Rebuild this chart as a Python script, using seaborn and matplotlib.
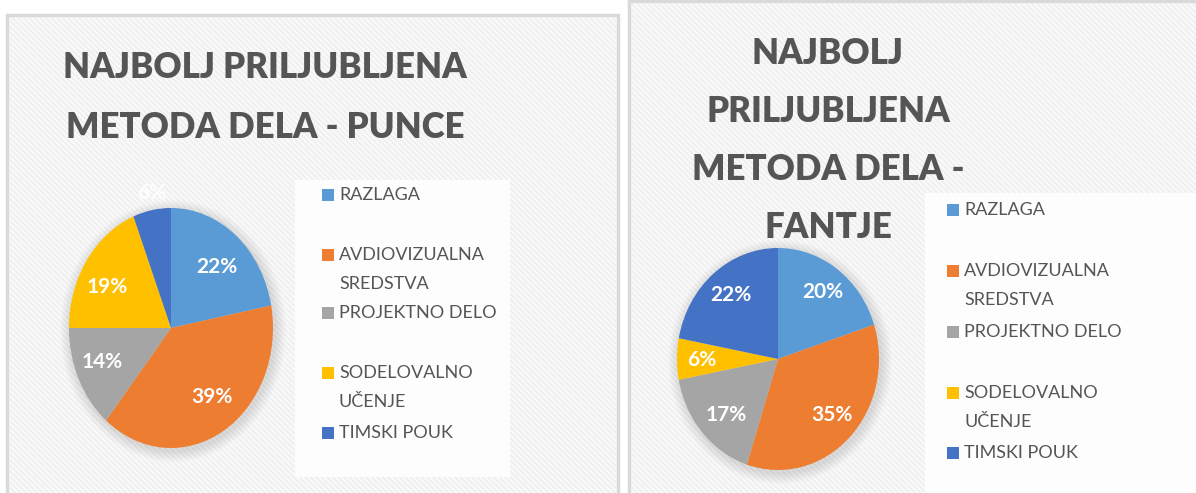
import matplotlib
matplotlib.use("Agg")
import matplotlib.pyplot as plt
import seaborn as sns
from matplotlib.patches import Rectangle, Ellipse

sns.set_theme(style="white")
plt.rcParams['font.family'] = ['Lato', 'DejaVu Sans']
plt.rcParams['hatch.linewidth'] = 1.6

# ---- data ----
categories = ["RAZLAGA", "AVDIOVIZUALNA\nSREDSTVA", "PROJEKTNO DELO",
              "SODELOVALNO\nUČENJE", "TIMSKI POUK"]
punce = [22, 39, 14, 19, 6]
fantje = [20, 35, 17, 6, 22]
title_punce = ["NAJBOLJ PRILJUBLJENA", "METODA DELA - PUNCE"]
title_fantje = ["NAJBOLJ", "PRILJUBLJENA", "METODA DELA -", "FANTJE"]

colors = sns.color_palette(["#5B9BD5", "#ED7D31", "#A5A5A5", "#FFC000", "#4472C4"])

W, H = 1196, 493
fig = plt.figure(figsize=(W / 100, H / 100), dpi=100)
fig.patch.set_facecolor("white")

def fx(x):
    return x / W

def fy(y):
    return 1 - y / H

# ---- panels ----
bg = fig.add_axes([0, 0, 1, 1], zorder=0)
bg.set_xlim(0, W)
bg.set_ylim(H, 0)
bg.axis("off")
for (x0, y0, x1, y1) in [(7, 15, 618, 500), (629, 1, 1200, 500)]:
    bg.add_patch(Rectangle((x0, y0), x1 - x0, y1 - y0, facecolor="#FBFBFB",
                           edgecolor="#D9D9D9", lw=2.5))
    bg.add_patch(Rectangle((x0 + 1.5, y0 + 1.5), x1 - x0 - 3, y1 - y0 - 3,
                           facecolor="none", edgecolor="#F0F0F0", lw=0,
                           hatch="\\\\\\\\\\\\"))
# legend boxes
bg.add_patch(Rectangle((295, 180), 215, 297, facecolor="#FDFDFD", edgecolor="none"))
bg.add_patch(Rectangle((925, 193), 275, 300, facecolor="#FDFDFD", edgecolor="none"))

def draw_pie(values, cx, cy, rx, ry, label_pos):
    # soft shadow
    for k in range(10, 0, -1):
        bg.add_patch(Ellipse((cx + 2, cy + 3), 2 * rx + 2.2 * k, 2 * ry + 2.2 * k,
                             facecolor="#000000", alpha=0.012, edgecolor="none"))
    ax = fig.add_axes([fx(cx - rx), fy(cy + ry), 2 * rx / W, 2 * ry / H], zorder=2)
    wedges, _ = ax.pie(values, colors=colors, startangle=90, counterclock=False,
                       radius=1, wedgeprops=dict(linewidth=0))
    ax.set_aspect("auto")
    ax.set_xlim(-1, 1)
    ax.set_ylim(-1, 1)
    for w in wedges:
        w.set_clip_on(False)
    for v, (px, py) in zip(values, label_pos):
        outside = (px - cx) ** 2 / rx ** 2 + (py - cy) ** 2 / ry ** 2 > 1
        fig.text(fx(px), fy(py), f"{v}%", ha="center", va="center", color="white",
                 fontsize=15, fontweight="bold", alpha=0.9 if outside else 1.0,
                 zorder=5)
    return ax

draw_pie(punce, 171, 328, 102, 120,
         [(217, 267), (212, 397), (102, 362), (107, 287), (152, 193)])
draw_pie(fantje, 778, 359, 101, 111,
         [(823, 292), (832, 415), (726, 415), (702, 360), (731, 295)])

# ---- titles ----
tkw = dict(ha="center", va="center", color="#555555", fontsize=25, fontweight="heavy")
for line, y in zip(title_punce, [68, 128]):
    fig.text(fx(265), fy(y), line, **tkw)
for line, y in zip(title_fantje, [53, 111, 169, 228]):
    fig.text(fx(828), fy(y), line, **tkw)

# ---- legends ----
def draw_legend(x_sq, ys, x_txt):
    for lab, col, y in zip(categories, colors, ys):
        bg.add_patch(Rectangle((x_sq, y - 6), 12, 12, facecolor=col, edgecolor="none"))
        for i, part in enumerate(lab.split("\n")):
            fig.text(fx(x_txt), fy(y + 29 * i), part, ha="left", va="center",
                     color="#555555", fontsize=13)

draw_legend(322, [195, 255, 313, 373, 433], 339)
draw_legend(947, [210, 271, 332, 393, 453], 964)

fig.savefig("out.png", dpi=100, facecolor="white")
